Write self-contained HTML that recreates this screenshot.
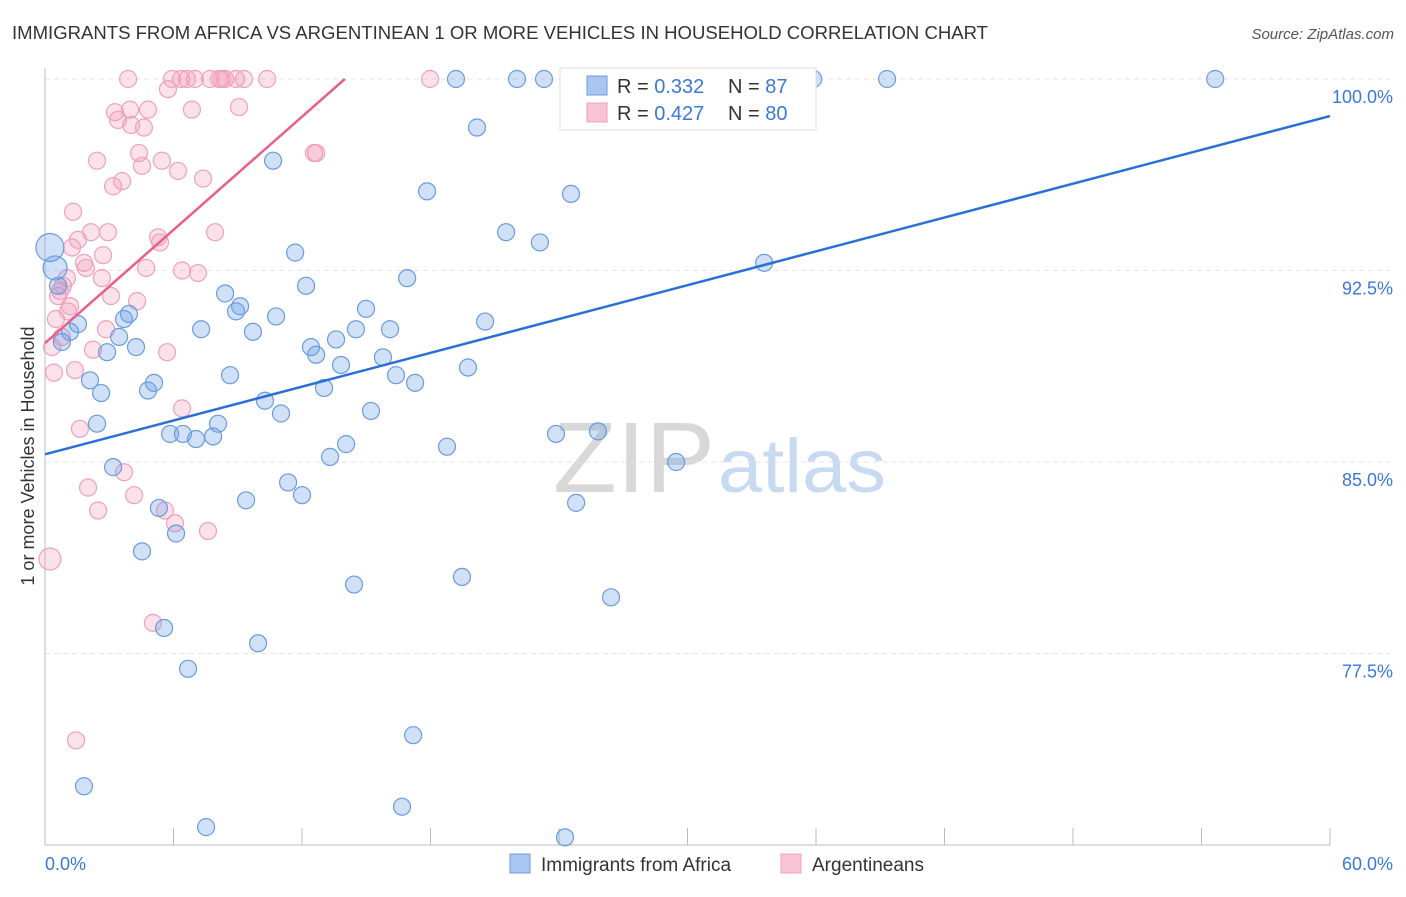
<!DOCTYPE html>
<html><head><meta charset="utf-8"><style>
body{margin:0;background:#fff;font-family:"Liberation Sans",sans-serif;}
svg text{font-family:"Liberation Sans",sans-serif;}
</style></head><body>
<svg id="chart" width="1406" height="892" xmlns="http://www.w3.org/2000/svg">
<text x="12" y="39" font-size="18" fill="#333" textLength="976" lengthAdjust="spacingAndGlyphs">IMMIGRANTS FROM AFRICA VS ARGENTINEAN 1 OR MORE VEHICLES IN HOUSEHOLD CORRELATION CHART</text>
<text x="1394" y="39" font-size="15" fill="#555" font-style="italic" text-anchor="end">Source: ZipAtlas.com</text>
<g>
<text x="553" y="492" font-size="100" font-family="Liberation Serif" fill="#d8d8d8" textLength="162" lengthAdjust="spacingAndGlyphs">ZIP</text>
<text x="718" y="492" font-size="76" fill="#c8daf2" textLength="168" lengthAdjust="spacingAndGlyphs">atlas</text>
</g>
<g id="grid"></g>
<g id="axes"></g>
<g id="points"></g>
<g id="trends"></g>
<text transform="translate(34,456) rotate(-90)" font-size="18" fill="#333" text-anchor="middle">1 or more Vehicles in Household</text>
<g>
<rect x="560" y="68" width="256" height="62" fill="#fff" stroke="#ddd"/>
<rect x="587" y="76" width="20" height="19" fill="#a9c6ef" stroke="#6a9be0"/>
<rect x="587" y="103" width="20" height="19" fill="#f8c3d3" stroke="#f0a0bb"/>
<text x="617" y="93" font-size="20" fill="#333">R = <tspan fill="#3a78d8">0.332</tspan></text>
<text x="728" y="93" font-size="20" fill="#333">N = <tspan fill="#3a78d8">87</tspan></text>
<text x="617" y="120" font-size="20" fill="#333">R = <tspan fill="#3a78d8">0.427</tspan></text>
<text x="728" y="120" font-size="20" fill="#333">N = <tspan fill="#3a78d8">80</tspan></text>
</g>
<g>
<rect x="510" y="854" width="20" height="19" fill="#a9c6ef" stroke="#6a9be0"/>
<text x="541" y="871" font-size="19" fill="#333">Immigrants from Africa</text>
<rect x="781" y="854" width="20" height="19" fill="#f8c3d3" stroke="#f0a0bb"/>
<text x="812" y="871" font-size="19" fill="#333">Argentineans</text>
</g>
</svg>
<script>
const yTicks=[77.5,85.0,92.5,100.0];
const xTickLabels=["0.0%","60.0%"];
const africaX=[0.23,0.47,0.61,0.79,1.17,1.54,2.10,2.43,2.62,2.90,3.18,3.46,3.69,3.92,4.25,4.53,4.81,5.09,5.32,5.56,5.84,6.12,6.44,6.68,7.05,7.29,7.52,7.85,8.08,8.41,8.64,8.92,9.11,9.39,9.71,9.95,10.27,10.65,10.79,11.02,11.35,11.68,12.00,12.19,12.42,12.66,13.03,13.31,13.59,13.82,14.06,14.43,14.52,14.99,15.22,15.78,16.11,16.39,16.67,16.91,17.19,17.28,17.84,18.77,19.19,19.47,19.75,20.17,20.55,21.53,22.04,23.11,23.30,23.86,24.28,24.56,24.80,25.82,26.43,29.47,33.58,35.87,39.32,54.64,1.82,30.50];
const africaY=[93.4,92.6,91.9,89.7,90.1,90.4,88.2,86.5,87.7,89.3,84.8,89.9,90.6,90.8,89.5,81.5,87.8,88.1,83.2,78.5,86.1,82.2,86.1,76.9,85.9,90.2,70.7,86.0,86.5,91.6,88.4,90.9,91.1,83.5,90.1,77.9,87.4,96.8,90.7,86.9,84.2,93.2,83.7,91.9,89.5,89.2,87.9,85.2,89.8,88.8,85.7,80.2,90.2,91.0,87.0,89.1,90.2,88.4,71.5,92.2,74.3,88.1,95.6,85.6,100,80.5,88.7,98.1,90.5,94.0,100,93.6,100,86.1,70.3,95.5,83.4,86.2,79.7,85.0,92.8,100,100,100,72.3,100];
const africaR=[14,12];
const argX=[0.23,0.33,0.42,0.51,0.61,0.70,0.84,1.03,1.17,1.26,1.31,1.40,1.45,1.54,1.63,1.82,1.91,2.01,2.15,2.24,2.43,2.48,2.66,2.71,2.85,2.94,3.08,3.18,3.27,3.41,3.60,3.69,3.88,3.97,4.02,4.16,4.30,4.39,4.53,4.62,4.72,4.81,5.04,5.28,5.37,5.46,5.60,5.70,5.74,5.93,6.07,6.21,6.35,6.40,6.40,6.63,6.86,7.00,7.14,7.38,7.61,7.71,7.94,8.13,8.27,8.41,8.92,9.06,9.29,10.37,12.56,12.66,17.98,1.07,0.79];
const argY=[81.2,89.5,88.5,90.6,91.5,91.7,91.9,92.2,91.1,93.4,94.8,88.6,74.1,93.7,86.3,92.8,92.6,84.0,94.0,89.4,96.8,83.1,92.2,93.1,90.2,94.0,91.5,95.8,98.7,98.4,96.0,84.6,100,98.8,98.2,83.7,91.3,97.1,96.6,98.1,92.6,98.8,78.7,93.8,93.6,96.8,83.1,89.3,99.6,100,82.6,96.4,100,87.1,92.5,100,98.8,100,92.4,96.1,82.3,100,94.0,100,100,100,100,98.9,100,100,97.1,97.1,100,90.9,89.9];
const argR=[11];
const africaTrend=[85.3,98.55];
const argTrend=[89.66,100];
const argTrendEndX=14.0;

const NS="http://www.w3.org/2000/svg";
const X0=45,X1=1330,Y0=845,Y1=79;
const xs=v=>X0+(v/60)*(X1-X0);
const ys=v=>Y0-((v-70)/30)*(Y0-Y1);
function mk(tag,attrs,parent){const e=document.createElementNS(NS,tag);for(const k in attrs)e.setAttribute(k,attrs[k]);parent.appendChild(e);return e;}
const grid=document.getElementById('grid'),axes=document.getElementById('axes'),pts=document.getElementById('points'),tr=document.getElementById('trends');
yTicks.forEach(t=>{
 const l=mk('line',{x1:X0,x2:X1+60,y1:ys(t),y2:ys(t),stroke:'#e4e4e4','stroke-dasharray':'5,4'},grid);
 
 
 const tx=mk('text',{x:1393,y:ys(t)+24,'font-size':18,fill:'#3a78d8','text-anchor':'end'},axes);
 tx.textContent=t.toFixed(1)+'%';
 
 
});
const ax=mk('line',{x1:X0,x2:X1,y1:Y0,y2:Y0,stroke:'#bbb'},axes);


const ay=mk('line',{x1:X0,x2:X0,y1:68,y2:Y0,stroke:'#bbb'},axes);


for(let i=0;i<=10;i++){
 const tk=mk('line',{x1:xs(i*6),x2:xs(i*6),y1:828,y2:Y0,stroke:'#bbb'},axes);
 
 
}
const xl0=mk('text',{x:45,y:870,'font-size':18,fill:'#3a78d8'},axes);
xl0.textContent=xTickLabels[0];


const xl1=mk('text',{x:1393,y:870,'font-size':18,fill:'#3a78d8','text-anchor':'end'},axes);
xl1.textContent=xTickLabels[1];


argX.forEach((v,i)=>{
 const c=mk('circle',{cx:xs(v),cy:ys(argY[i]),r:argR[i]||8.5,fill:'rgba(240,150,180,0.28)',stroke:'#f0a0bb','stroke-width':1.2},pts);
 
 
});
africaX.forEach((v,i)=>{
 const c=mk('circle',{cx:xs(v),cy:ys(africaY[i]),r:africaR[i]||8.5,fill:'rgba(110,160,230,0.32)',stroke:'#6a9be0','stroke-width':1.2},pts);
 
 
});
const bl=mk('line',{x1:xs(0),y1:ys(africaTrend[0]),x2:xs(60),y2:ys(africaTrend[1]),stroke:'#2a6fd6','stroke-width':2.5},tr);


const pl=mk('line',{x1:xs(0),y1:ys(argTrend[0]),x2:xs(argTrendEndX),y2:ys(argTrend[1]),stroke:'#e8608a','stroke-width':2.5},tr);


</script>
</body></html>
